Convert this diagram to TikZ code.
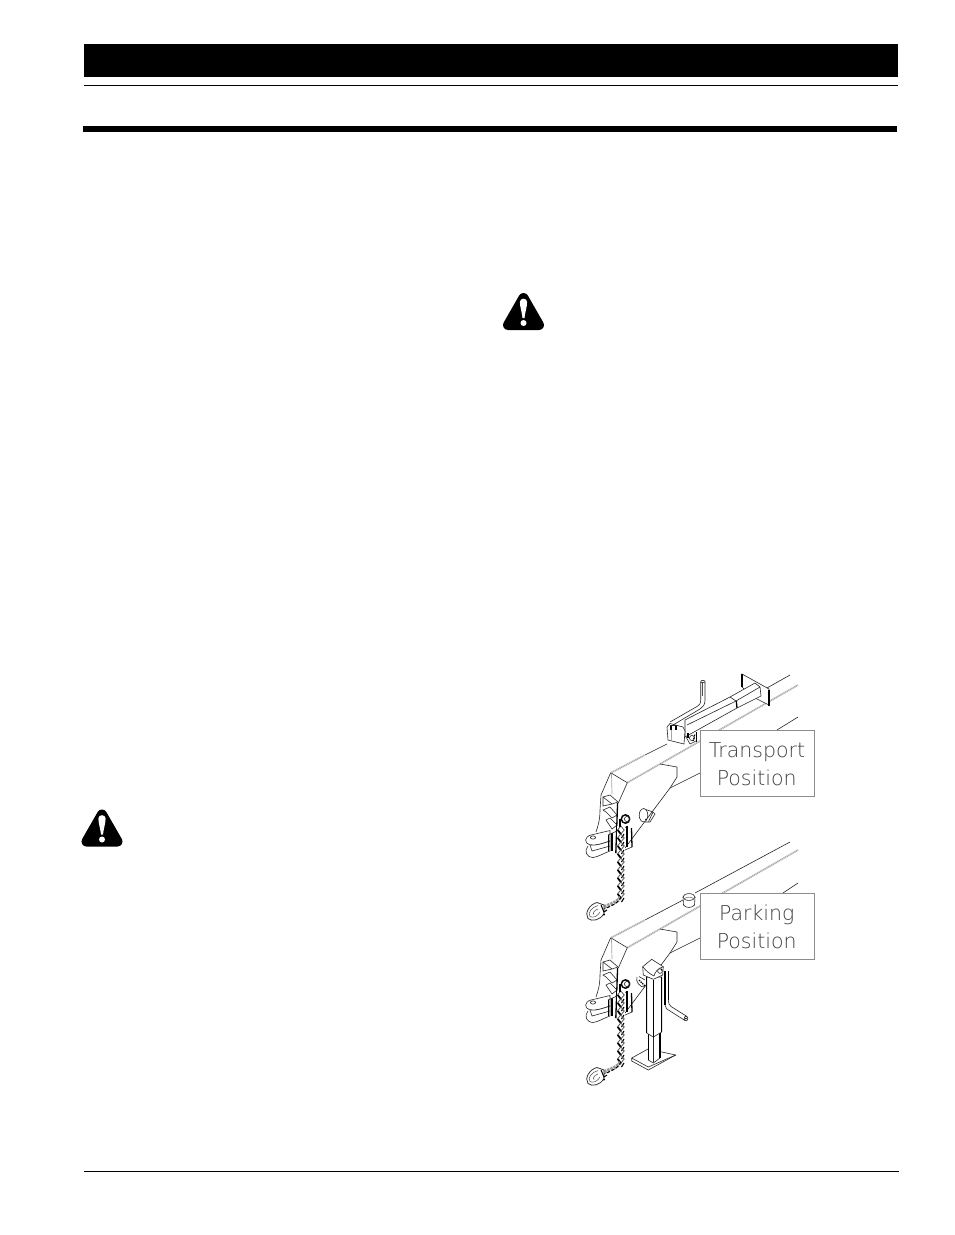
\documentclass[tikz,border=0pt]{standalone}
\usepackage{fontspec}
\newfontfamily\lblfont{DejaVu Sans ExtraLight}
\tikzset{
  thin line/.style={line width=.6pt,black!85},
  ridge/.style={line width=1.7pt,black!32,dash pattern=on 1.2pt off .6pt},
  heavy/.style={line width=1.3pt,black},
  pale/.style={line width=.7pt,black!35},
  lblbox/.style={draw=black!45,line width=.9pt,fill=white},
  lbltext/.style={font=\lblfont\fontsize{20.5}{24}\selectfont,text=black!75,anchor=base,inner sep=0pt},
  solid bar/.style={fill=black,draw=none}
}
\newcommand{\warnicon}[2]{%
  \begin{scope}[shift={(#1,#2)}]
    \fill[black,draw=black,line width=10pt,line join=round] (0,6) -- (15.5,33) -- (-15.5,33) -- cycle;
    \fill[white] (-3.6,10) .. controls (-3.6,5.6) and (3.6,5.6) .. (3.6,10) .. controls (3.6,15) and (1.4,21) .. (1,26) -- (-1,26) .. controls (-1.4,21) and (-3.6,15) .. (-3.6,10) -- cycle;
    \fill[white] (0,31) circle (3);
  \end{scope}}
\newcommand{\tongueparts}{%
  % hood and gusset
  \draw[thin line] (610.7,772.7) -- (627.3,782.7);
  \draw[thin line] (610.7,772.7) -- (601,795) -- (600,810) .. controls (600,820) and (598,826) .. (596,832);
  \draw[pale] (611.5,774) -- (612,794);
  \draw[ridge] (611.5,772.5) -- (645,755);
  \draw[thin line] (627.3,782.7) -- (618.3,803);
  \draw[thin line] (660,764) -- (677,767) -- (677,777) -- (670,788) -- (625,848);
  \draw[thin line] (670,788) -- (700,773);
  % coupler steps
  \draw[thin line] (603,797) -- (610,795) -- (618,802) -- (612,804) -- cycle;
  \draw[thin line] (603,797) -- (603,806) -- (612,804);
  \draw[thin line] (603,810) -- (610,807) -- (617,815) -- (612,818) -- (606,812) -- cycle;
  \draw[thin line] (606,820) -- (610,818) -- (617,825) -- (612,829) -- cycle;
  % ears
  \draw[thin line,fill=white] (610,830.5) -- (591,835) .. controls (584,837) and (584,843) .. (590,845) .. controls (596,846) and (604,843) .. (610,841) -- cycle;
  \draw[thin line] (593,837.5) ellipse (2.6 and 1.6);
  \draw[thin line,fill=white] (588,846) .. controls (584,851) and (586,857) .. (593,857.5) .. controls (598,857) and (604,853) .. (610,851) -- (610,841) .. controls (604,843) and (596,846) .. (590,845);
  \draw[thin line] (590,845) -- (592,851) -- (610,846);
  \draw[heavy] (617.6,803) -- (615.8,853);
  \draw[heavy] (608.5,835) -- (608.5,851);
  \draw[heavy] (612,833) -- (612,851);
  \draw[heavy] (631.5,828) -- (632,847);
  \draw[heavy] (627,826) -- (627,847);
  \draw[thin line] (608,835) -- (626,827);
  \draw[thin line] (632,847) -- (625,850) -- (616,853);
  % chain
  \fill[white] (617,826) rectangle (625,897);
  \foreach \k in {0,...,8}{
    \draw[line width=.8pt,black!65] (620.8,826+8*\k) -- (624.2,830+8*\k) -- (620.8,834+8*\k) -- (617.4,830+8*\k) -- cycle;
    \draw[line width=1.7pt,black] (617.8,830+8*\k) -- (620.8,834+8*\k);
    \draw[line width=1.1pt,black] (624,834+8*\k) -- (621.5,838+8*\k);
  }
  % lug
  \draw[line width=1.4pt,black,fill=white] (625.5,819) circle (4.2);
  \draw[thin line] (627,819) circle (2.6);
  \draw[line width=1.2pt] (620,819) -- (620,827);
  % tail of the chain and hook
  \draw[line width=3.6pt,black!40,dash pattern=on 2.5pt off .9pt] (620.5,897) .. controls (619,901) and (614,903) .. (604,907);
  \draw[line width=1pt,black,dash pattern=on 3pt off 2pt] (621,897) .. controls (619,902) and (614,905) .. (604,909);
  \draw[line width=.8pt,black!80,fill=white] (604,905) -- (597,902.5) .. controls (590,904) and (584,913) .. (588,918.5) .. controls (592,922) and (600,920) .. (604,914) -- cycle;
  \draw[line width=.5pt,black!70] (598,905.5) .. controls (592,907) and (587,913) .. (590,916.5) .. controls (593,918.5) and (598,916) .. (600,912);
  \draw[line width=.5pt,black!70] (598,909) .. controls (595,910) and (592,913) .. (594,914.5);
  \draw[line width=1pt] (601,905) -- (604,912) -- (607,910);
  \fill[black] (604,914.5) circle (1.2);
}
\begin{document}
\begin{tikzpicture}[x=1pt,y=-1pt]
\useasboundingbox (0,0) rectangle (954,1235);
\fill[white] (0,0) rectangle (954,1235);
% page rules
\fill[solid bar] (84,44) rectangle (898,77);
\fill[black] (84,84.9) rectangle (898,85.9);
\fill[solid bar] (83,126) rectangle (897,132);
\fill[black] (84,1170.7) rectangle (899,1171.7);
% warning symbols
\warnicon{523.5}{292}
\warnicon{102}{808.5}
% upper tongue: long lines
\draw[thin line] (645,755) -- (667,744);
\draw[ridge] (627.3,782.7) -- (798,685);
\draw[thin line] (767,688) -- (790,675);
\draw[thin line] (777,730) -- (798,717);
\tongueparts
% pin through the upper tongue
\draw[thin line] (643,808.5) -- (653,812) -- (655,814) -- (650,822) -- (645,822);
\draw[thin line,fill=white] (643.5,815.2) ellipse (4.3 and 6.6);
\fill[black] (646,819.5) circle (.8);
\draw[thin line] (653,812) -- (648.5,821.5);
% transport tube
\draw[thin line,fill=white] (742,674) -- (769,689) -- (769,705) -- (753,697) -- (742,687) -- cycle;
\draw[heavy] (742,674) -- (742,687);
\draw[heavy] (769,690) -- (769,706);
\draw[thin line,fill=white] (685,720) -- (730,697) -- (755,683) -- (760,687) -- (761,696) -- (737,708) -- (685,737) -- cycle;
\draw[thin line] (687,725) -- (736,701) -- (760,687);
\draw[thin line] (730,697) -- (736,701);
\draw[heavy] (736.3,701) -- (737,708);
% handle
\draw[thin line] (700.7,682) -- (700.7,700) .. controls (700.7,704) and (699,705.5) .. (697,706.5) -- (670,722);
\draw[thin line] (705,682) -- (705,700) .. controls (705,705) and (703,707) .. (700,709) -- (673,725);
\draw[heavy,black!70] (702.8,682) -- (702.8,696);
\draw[thin line] (702.9,681.5) ellipse (2.2 and 1.2);
% head
\draw[thin line,fill=white] (667,727) -- (670,723.5) -- (683,727) -- (685,731) -- (684,744) -- (668,740) -- cycle;
\draw[pale] (671,727) -- (671,740);
\draw[heavy] (671,725) -- (671,730);
\draw[heavy] (676,725) -- (676,730);
\draw[thin line] (670,725.5) -- (677,725.5);
% clamp
\draw[thin line] (686,737) -- (690,744) -- (696,741);
\draw[thin line] (692,738) circle (2.6);
\draw[heavy] (696.7,732) -- (696.7,742);
\draw[heavy] (688,733) -- (688,738);
\draw[line width=1.1pt,black,dash pattern=on 1pt off .8pt] (693,741) -- (695,734);
% lower tongue: long lines
\draw[thin line] (695,893) -- (790,842);
\draw[thin line] (783,893) -- (798,883);
\draw[ridge] (627.3,947.7) -- (798,850);
\draw[thin line] (645,920) -- (683,900);
\begin{scope}[yshift=-165pt]
\tongueparts
\end{scope}
% upright on the lower tongue
\draw[thin line,fill=white] (683,897) -- (683.5,905) .. controls (686,908.5) and (692,908) .. (694.5,905) -- (695,897);
\draw[thin line,fill=white] (689,897) ellipse (6 and 3.4);
\draw[black!60,line width=.5pt] (684,899) .. controls (686,896.5) and (692,896.5) .. (694,899);
% labels
\draw[lblbox] (700.7,730.7) rectangle (814,796);
\draw[lblbox] (700.7,893) rectangle (814,959);
\node[lbltext] (t1) at (757,757) {Transport};
\node[lbltext] (t2) at (756.7,785) {Position};
\node[lbltext] (t3) at (756.7,920) {Parking};
\node[lbltext] (t4) at (756.7,948) {Position};
% pin at the jack
\draw[thin line] (637,977) .. controls (635,981) and (640,988) .. (645,987);
\draw[line width=1.1pt,black,dash pattern=on 1.5pt off .8pt] (639,980) -- (645,986);
\draw[thin line] (639,976.5) -- (645,980);
% jack foot
\draw[thin line,fill=white] (631.7,1058) -- (648,1049) -- (675.7,1055) -- (648.3,1070) -- (631.7,1061) -- cycle;
\draw[thin line] (631.7,1058) -- (648.3,1067) -- (675.7,1055);
% jack inner leg
\draw[thin line,fill=white] (648.3,1033) -- (648.3,1060) -- (653.3,1063) -- (660,1058) -- (660,1033) -- cycle;
\draw[heavy] (648.3,1033) -- (648.3,1060);
\draw[heavy] (660,1033) -- (660,1058);
\draw[thin line] (653.3,1037) -- (653.3,1062);
% jack tube
\draw[thin line,fill=white] (646.7,977) -- (646.7,1033) -- (653.3,1037) -- (661.7,1032) -- (661.7,977) -- cycle;
\draw[heavy] (646.7,977) -- (646.7,1033);
\draw[heavy] (653.3,980) -- (653.3,1037);
\draw[heavy] (661.7,977) -- (661.7,1032);
% jack cap
\draw[thin line,fill=white] (642.7,966.7) -- (651.7,959.3) -- (663.3,966.7) -- (662.7,975) -- (653.3,979.3) -- (643.3,975) -- cycle;
\draw[thin line] (642.7,966.7) .. controls (646,971) and (650,974) .. (654,976);
\draw[thin line] (654,976) .. controls (655,972) and (658,968) .. (663.3,966.7);
\draw[thin line,fill=white] (660,971) circle (2.4);
\fill[black] (661.5,969.5) circle (1);
% crank
\draw[heavy] (665,971) -- (665,1005);
\draw[heavy] (668.3,971) -- (668.3,1000);
\draw[thin line] (665,1005) .. controls (665.5,1008) and (667,1010) .. (670,1011) -- (685,1020.5);
\draw[thin line] (668.3,1000) .. controls (668.5,1003) and (669,1005) .. (671,1006.5) -- (687,1016.5);
\draw[thin line,fill=white] (686,1018.5) ellipse (1.8 and 2.2);
\fill[black] (686,1018.5) circle (.8);
\end{tikzpicture}
\end{document}
